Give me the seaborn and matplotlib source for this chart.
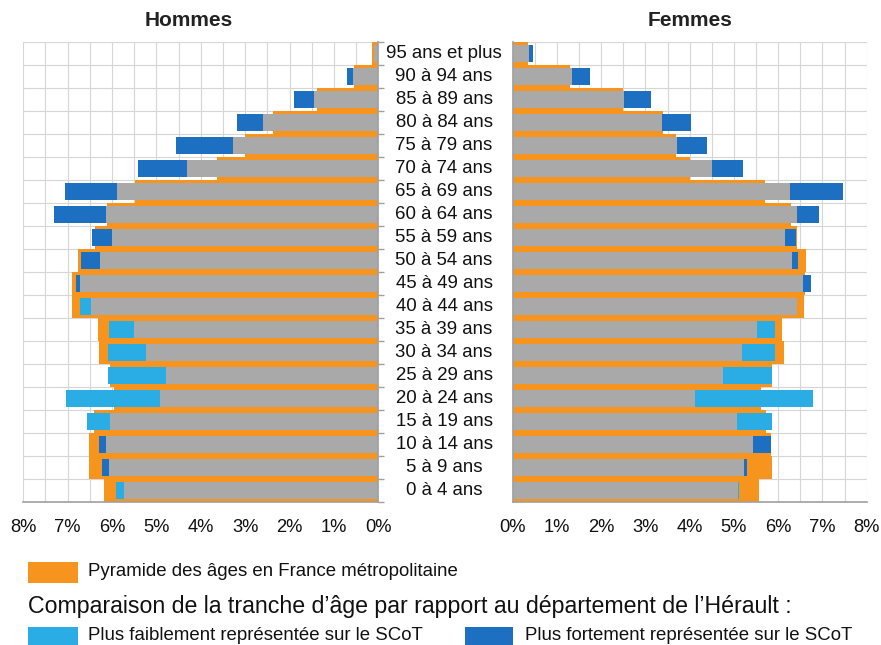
import numpy as np
import pandas as pd
import seaborn as sns
import matplotlib
matplotlib.use("Agg")
import matplotlib.pyplot as plt
from matplotlib.patches import Rectangle
from matplotlib.ticker import MultipleLocator, FuncFormatter
from matplotlib import transforms

# Tranches d'âge, de la plus âgée à la plus jeune (haut -> bas)
ages = ["95 ans et plus", "90 à 94 ans", "85 à 89 ans", "80 à 84 ans", "75 à 79 ans",
        "70 à 74 ans", "65 à 69 ans", "60 à 64 ans", "55 à 59 ans", "50 à 54 ans",
        "45 à 49 ans", "40 à 44 ans", "35 à 39 ans", "30 à 34 ans", "25 à 29 ans",
        "20 à 24 ans", "15 à 19 ans", "10 à 14 ans", "5 à 9 ans", "0 à 4 ans"]

# Hommes (% de la population masculine)
france_h = [0.15, 0.55, 1.38, 2.37, 3.00, 3.63, 5.48, 6.11, 6.38, 6.76,
            6.90, 6.90, 6.31, 6.29, 6.04, 5.95, 6.40, 6.51, 6.53, 6.18]
herault_h = [0.10, 0.57, 1.46, 2.60, 3.27, 4.31, 5.88, 6.13, 6.00, 6.27,
             6.73, 6.72, 6.08, 6.09, 6.09, 7.03, 6.57, 6.14, 6.06, 5.91]
scot_h = [0.10, 0.70, 1.89, 3.19, 4.56, 5.41, 7.07, 7.30, 6.45, 6.70,
          6.81, 6.48, 5.51, 5.24, 4.78, 4.93, 6.04, 6.29, 6.22, 5.73]

# Femmes (% de la population féminine)
france_f = [0.35, 1.30, 2.50, 3.40, 3.70, 4.00, 5.70, 6.28, 6.42, 6.63,
            6.60, 6.59, 6.08, 6.12, 5.87, 5.60, 5.72, 5.83, 5.87, 5.57]
herault_f = [0.37, 1.33, 2.52, 3.37, 3.72, 4.50, 6.27, 6.42, 6.15, 6.32,
             6.57, 6.43, 5.93, 5.93, 5.87, 6.78, 5.87, 5.42, 5.23, 5.12]
scot_f = [0.45, 1.75, 3.13, 4.03, 4.38, 5.20, 7.47, 6.92, 6.40, 6.45,
          6.73, 6.43, 5.51, 5.19, 4.75, 4.12, 5.06, 5.83, 5.30, 5.10]

ORANGE = "#F7941D"
GREY = "#A9A9A9"
LIGHT = "#2AADE4"
DARK = "#1C6FC1"
GRID = "#D6D6D6"
AXIS = "#A0A0A0"
TXT = "#111111"

sns.set_theme(style="white")
plt.rcParams["font.family"] = ["Liberation Sans", "DejaVu Sans"]

W, H = 881, 645
fig = plt.figure(figsize=(W / 100, H / 100), dpi=100)
fig.patch.set_facecolor("white")

bottom = 1 - 502 / H
height = (502 - 42) / H
ax_h = fig.add_axes([23.3 / W, bottom, 355.0 / W, height])
ax_f = fig.add_axes([512.7 / W, bottom, 354.0 / W, height])


def pyramid_side(ax, france, herault, scot):
    df = pd.DataFrame({"age": ages, "france": france,
                       "herault": herault, "scot": scot})
    df["bas"] = df[["herault", "scot"]].min(axis=1)
    df["haut"] = df[["herault", "scot"]].max(axis=1)
    df["ecart"] = np.where(df["scot"] < df["herault"], "faible", "fort")

    common = dict(y="age", order=ages, orient="h", saturation=1,
                  errorbar=None, linewidth=0, ax=ax)
    sns.barplot(data=df, x="france", color=ORANGE, width=1.0, **common)
    sns.barplot(data=df, x="haut", hue="ecart", dodge=False,
                palette={"faible": LIGHT, "fort": DARK},
                hue_order=["faible", "fort"], legend=False, width=0.7, **common)
    sns.barplot(data=df, x="bas", color=GREY, width=0.7, **common)

    ax.set_ylim(len(ages) - 0.5, -0.5)
    ax.set_yticks(np.arange(-0.5, len(ages), 1.0))
    ax.set_yticklabels([])
    ax.xaxis.set_major_locator(MultipleLocator(1))
    ax.xaxis.set_minor_locator(MultipleLocator(0.5))
    ax.xaxis.set_major_formatter(FuncFormatter(lambda v, p: f"{v:.0f}%"))
    ax.set_axisbelow(True)
    ax.grid(True, which="both", axis="x", color=GRID, linewidth=0.8)
    ax.grid(True, which="major", axis="y", color=GRID, linewidth=0.8)
    ax.set_xlabel("")
    ax.set_ylabel("")
    for s in ax.spines.values():
        s.set_visible(False)
    ax.spines["bottom"].set_visible(True)
    ax.spines["bottom"].set_color(AXIS)
    ax.spines["bottom"].set_linewidth(1.2)
    ax.tick_params(axis="x", which="major", direction="out", length=5,
                   width=1, color=AXIS, labelsize=13.2, pad=7,
                   labelcolor=TXT)
    ax.tick_params(axis="x", which="minor", length=0)
    ax.tick_params(axis="y", direction="out", length=4, width=1, color=AXIS)


pyramid_side(ax_h, france_h, herault_h, scot_h)
pyramid_side(ax_f, france_f, herault_f, scot_f)

ax_h.set_xlim(8, 0)
ax_f.set_xlim(0, 8)
ax_h.yaxis.tick_right()
ax_h.spines["right"].set_visible(True)
ax_h.spines["right"].set_color(AXIS)
ax_f.spines["left"].set_visible(True)
ax_f.spines["left"].set_color(AXIS)

# Libellés des tranches d'âge au centre
lab_tr = transforms.blended_transform_factory(fig.transFigure, ax_h.transData)
for i, a in enumerate(ages):
    fig.text(444 / W, i, a, transform=lab_tr, ha="center", va="center",
             fontsize=13.4, color=TXT)

fig.text(189 / W, 1 - 20 / H, "Hommes", ha="center", va="center",
         fontsize=15, fontweight="bold", color="#222222")
fig.text(690 / W, 1 - 20 / H, "Femmes", ha="center", va="center",
         fontsize=15, fontweight="bold", color="#222222")

# Légende
def swatch(x0, y0, x1, y1, color):
    fig.patches.append(Rectangle((x0 / W, 1 - y1 / H), (x1 - x0) / W,
                                 (y1 - y0) / H, transform=fig.transFigure,
                                 facecolor=color, edgecolor="none"))

swatch(28, 562, 78, 583, ORANGE)
fig.text(88 / W, 1 - 572 / H, "Pyramide des âges en France métropolitaine",
         ha="left", va="center", fontsize=13.4, color=TXT)
fig.text(28 / W, 1 - 607 / H,
         "Comparaison de la tranche d’âge par rapport au département de l’Hérault :",
         ha="left", va="center", fontsize=16.7, color=TXT)
swatch(28, 627, 78, 645, LIGHT)
fig.text(88 / W, 1 - 635 / H, "Plus faiblement représentée sur le SCoT",
         ha="left", va="center", fontsize=13.4, color=TXT)
swatch(465, 627, 513, 645, DARK)
fig.text(525 / W, 1 - 635 / H, "Plus fortement représentée sur le SCoT",
         ha="left", va="center", fontsize=13.4, color=TXT)

fig.savefig("out.png", dpi=100)
